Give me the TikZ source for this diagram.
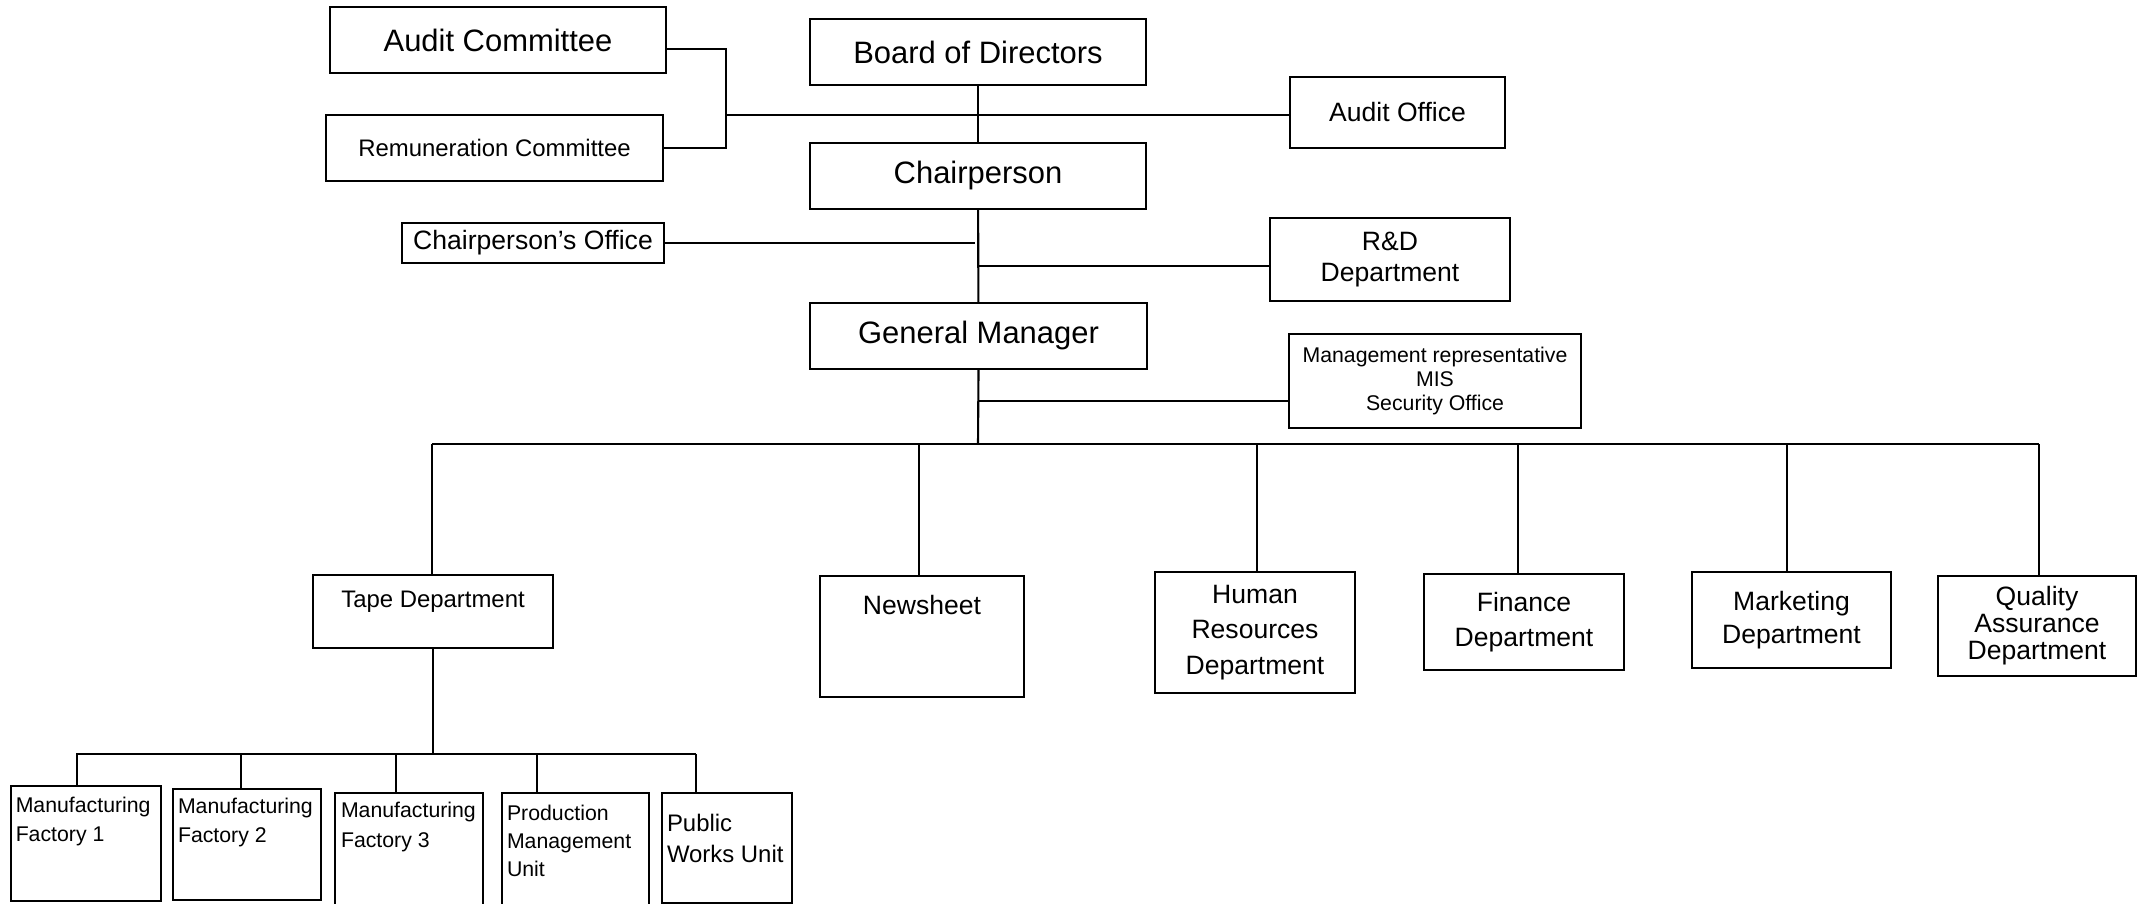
\documentclass[tikz,border=0pt]{standalone}
\usepackage{fontspec}
\setmainfont{Liberation Sans}
\newcommand{\px}{0.01cm}
\newcommand{\linew}{0.6pt}
\newcommand{\bigtext}{\fontsize{8.8}{10.5}\selectfont}
\newcommand{\midtext}{\fontsize{7.55}{10}\selectfont}
\newcommand{\smalltext}{\fontsize{6.8}{8.8}\selectfont}
\newcommand{\tinytext}{\fontsize{6.05}{8.3}\selectfont}

\begin{document}
\begin{tikzpicture}[x=\px, y=-\px, line width=\linew,
    box/.style={draw, inner sep=0pt, align=center},
    size/.style 2 args={minimum width=#1*\px, minimum height=#2*\px},
    unittext/.style={font=\tinytext, align=left, anchor=north west, inner sep=0pt}]
        \useasboundingbox (0,0) rectangle (2137,904);

        % top boxes
        \node[box, size={336}{66}, font=\bigtext] (audit) at (498,40) {Audit Committee};
        \node[box, size={336}{66}, font=\bigtext] (board) at (978,52) {Board of Directors};
        \node[box, size={215}{71}, font=\midtext] (auditoff) at (1397.5,112.5) {Audit Office};
        \node[box, size={337}{66}, font=\smalltext] (remun) at (494.5,148) {Remuneration Committee};
        \node[box, size={336}{66}, font=\bigtext] (chair) at (978,176) {Chairperson};
        \node[box, size={262}{40}, font=\midtext] (chairoff) at (533,243) {Chairperson’s Office};
        \node[box, size={240}{83}, font=\fontsize{7.55}{8.6}\selectfont] (rnd) at (1390,259.5) {R\&D\\Department};
        \node[box, size={337}{66}, font=\bigtext] (gm) at (978.5,336) {General Manager};
        \node[box, size={292}{94}, font=\fontsize{6.05}{6.9}\selectfont] (mis) at (1435,381) {Management representative\\MIS\\Security Office};

        % department boxes
        \node[box, size={240}{73}, label={[font=\smalltext, yshift=9.5*\px]center:Tape Department}] (tape) at (433,611.5) {};
        \node[box, size={204}{121}, label={[font=\midtext, yshift=31.5*\px]center:Newsheet}] (news) at (922,636.5) {};
        \node[box, size={200}{121}, font=\fontsize{7.55}{10}\selectfont] (hr) at (1255,632.5) {Human\\Resources\\Department};
        \node[box, size={200}{96}, font=\fontsize{7.55}{10}\selectfont] (fin) at (1524,622) {Finance\\Department};
        \node[box, size={199}{96}, font=\fontsize{7.55}{9.4}\selectfont] (mkt) at (1791.5,620) {Marketing\\Department};
        \node[box, size={198}{100}, font=\fontsize{7.55}{7.7}\selectfont] (qa) at (2037,626) {Quality\\Assurance\\Department};

        % unit boxes
        \node[box, size={150}{115}, label={[unittext, xshift=4.5*\px, yshift=-10.7*\px]north west:Manufacturing\\Factory 1}] (fac1) at (86.25,843.5) {};
        \node[box, size={148}{111}, label={[unittext, xshift=5*\px, yshift=-8.7*\px]north west:Manufacturing\\Factory 2}] (fac2) at (247,844.5) {};
        \node[box, size={148}{117}, label={[unittext, font=\fontsize{6.05}{8.5}\selectfont, xshift=6*\px, yshift=-9*\px]north west:Manufacturing\\Factory 3}] (fac3) at (409,851.5) {};
        \node[box, size={147}{117}, label={[unittext, font=\fontsize{6.05}{8}\selectfont, xshift=5*\px, yshift=-12*\px]north west:Production\\Management\\Unit}] (pmu) at (575.5,851.5) {};
        \node[box, size={130}{110}, label={[unittext, font=\fontsize{6.8}{8.8}\selectfont, xshift=5*\px, yshift=-21*\px]north west:Public\\Works Unit}] (pw) at (727,848) {};

        % committee lines
        \coordinate (comtop) at (726,49);
        \coordinate (combot) at (726,148);
        \coordinate (commid) at (726,115);
        \draw (audit.east |- comtop) -- (comtop) -- (combot) -- (remun.east |- combot);
        \draw (commid) -- (auditoff.west |- commid);

        % main line
        \draw (board) -- (chair);
        \draw (chair) -- (gm);
        \coordinate (offend) at (975,243);
        \draw (chairoff.east) -- (offend);
        \coordinate (rndjoin) at (978,266);
        \draw (rndjoin) -- (rnd.west |- rndjoin);
        \coordinate (misjoin) at (978,401);
        \draw (misjoin) -- (mis.west |- misjoin);
        \coordinate (busmid) at (978,444);
        \draw (gm.south) -- (busmid);

        % department bus
        \coordinate (busl) at (432,444);
        \coordinate (busr) at (2039,444);
        \draw (busl) -- (busr);
        \foreach \n/\x in {tape/432, news/919, hr/1257, fin/1518, mkt/1787, qa/2039} {
            \coordinate (drop) at (\x,444);
            \draw (drop) -- (drop |- \n.north);
        }

        % tape bus
        \coordinate (tbusl) at (76,754);
        \coordinate (tbusr) at (696,754);
        \draw (tape) -- (tape |- tbusl);
        \draw (tbusl) -- (tbusr);
        \foreach \n/\x in {fac1/77, fac2/241, fac3/396, pmu/537, pw/696} {
            \coordinate (drop) at (\x,754);
            \draw (drop) -- (drop |- \n.north);
        }
    \end{tikzpicture}
\end{document}
